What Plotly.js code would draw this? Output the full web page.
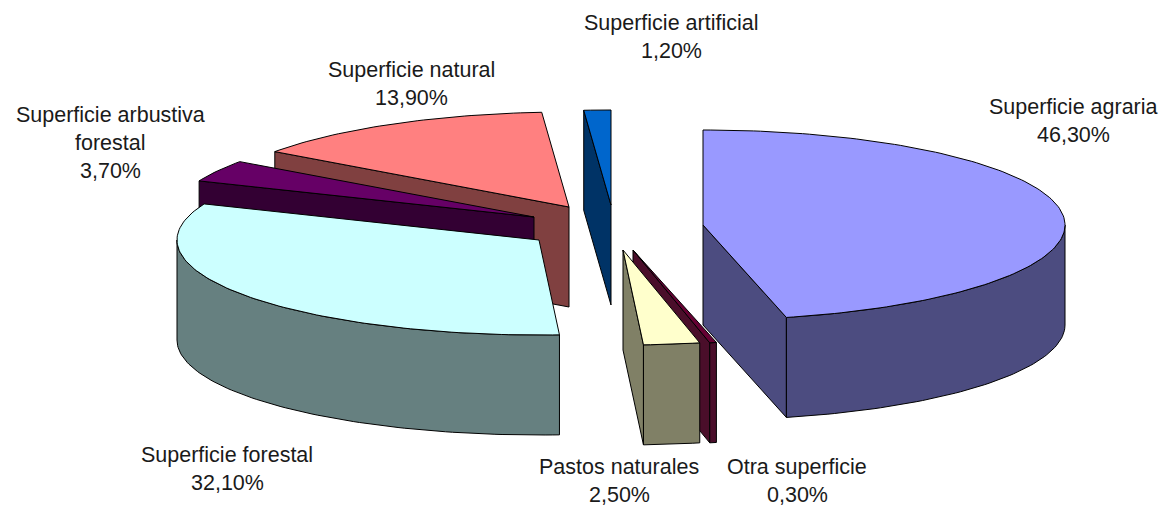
<!DOCTYPE html>
<html><head><meta charset="utf-8">
<script src="https://cdn.plot.ly/plotly-3.0.1.min.js"></script>
<style>html,body{margin:0;padding:0;background:#fff}</style>
</head><body><div id="chart" style="width:1163px;height:508px"></div>
<script>
const categories = ["Superficie agraria","Otra superficie","Pastos naturales","Superficie forestal","Superficie arbustiva forestal","Superficie natural","Superficie artificial"];
const values = [46.3,0.3,2.5,32.1,3.7,13.9,1.2];
const labelLines = [["Superficie agraria"],["Otra superficie"],["Pastos naturales"],["Superficie forestal"],["Superficie arbustiva","forestal"],["Superficie natural"],["Superficie artificial"]];
const labelX = [1073,797,619,227,110,411,671];
const labelY = [107,467,467,455,115,70,23];
const apexX = [703,633,623,539,534,569,611];
const apexY = [225,250,250,240,217,207,205];
const topColors = ["#9999FF","#660033","#FFFFCC","#CCFFFF","#660066","#FF8080","#0066CC"];
const sideColors = ["#4C4C80","#4A0E2A","#808066","#668080","#330033","#804040","#003366"];
const drawOrder = [6,5,4,3,0,1,2];
const RX = 362, RY = 95, DEPTH = 100, LINE_PITCH = 28;

const total = values.reduce((a,b)=>a+b,0);
const starts = []; let c = 0;
values.forEach(v=>{starts.push(c/total*2*Math.PI); c+=v;});
const pt = (i,a,dz=0)=>[apexX[i]+RX*Math.sin(a), apexY[i]-RY*Math.cos(a)+dz];
function arc(i,a0,a1,dz){
  const n=Math.max(2,Math.ceil(Math.abs(a1-a0)/0.02)), out=[];
  for(let k=0;k<=n;k++) out.push(pt(i,a0+(a1-a0)*k/n,dz));
  return out;
}
function poly(points,color){
  const p=points.concat([points[0]]);
  return {type:"scatter",mode:"lines",x:p.map(q=>q[0]),y:p.map(q=>q[1]),fill:"toself",fillcolor:color,
    line:{color:"#000",width:1},hoverinfo:"skip",showlegend:false};
}
const traces=[];
drawOrder.forEach(i=>{
  const a0=starts[i], a1=a0+values[i]/total*2*Math.PI, ap=[apexX[i],apexY[i]];
  const side=sideColors[i];
  const apD=[ap[0],ap[1]+DEPTH];
  // cut faces: only those that face the viewer
  if(a0>Math.PI) traces.push(poly([ap,pt(i,a0),pt(i,a0,DEPTH),apD],side));
  if(a1<Math.PI) traces.push(poly([ap,pt(i,a1),pt(i,a1,DEPTH),apD],side));
  // outer wall: front half only
  const w0=Math.max(a0,Math.PI/2), w1=Math.min(a1,3*Math.PI/2);
  if(w1>w0) traces.push(poly(arc(i,w0,w1,0).concat(arc(i,w1,w0,DEPTH)),side));
  // top
  traces.push(poly([ap].concat(arc(i,a0,a1,0)),topColors[i]));
});
const annotations=[];
categories.forEach((name,i)=>{
  const lines=labelLines[i].concat([values[i].toFixed(2).replace(".",",")+"%"]);
  lines.forEach((t,k)=>annotations.push({x:labelX[i],y:labelY[i]+k*LINE_PITCH,xref:"x",yref:"y",text:t,showarrow:false,
    xanchor:"center",yanchor:"middle",font:{family:"Liberation Sans, Arial, sans-serif",size:21.5,color:"#1a1a1a"}}));
});
const hidden={visible:false,fixedrange:true};
Plotly.newPlot("chart",traces,{
  width:1163,height:508,margin:{l:0,r:0,t:0,b:0},paper_bgcolor:"#fff",plot_bgcolor:"#fff",showlegend:false,
  xaxis:Object.assign({range:[0,1163]},hidden),yaxis:Object.assign({range:[508,0]},hidden),annotations
},{displayModeBar:false,staticPlot:true});
</script></body></html>
